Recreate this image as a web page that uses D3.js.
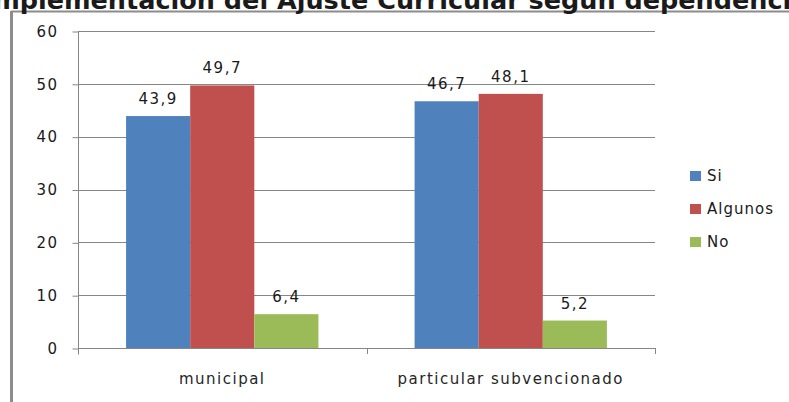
<!DOCTYPE html>
<html>
<head>
<meta charset="utf-8">
<script src="https://cdn.jsdelivr.net/npm/d3@7"></script>
<style>
  body { margin: 0; background: #fff; }
  svg { display: block; }
</style>
</head>
<body>
<div id="chart"></div>
<script>
// Chart data
var categories = ["municipal", "particular subvencionado"];
var seriesNames = ["Si", "Algunos", "No"];
var siValues = [43.9, 46.7];
var algunosValues = [49.7, 48.1];
var noValues = [6.4, 5.2];
var yTicks = [0, 10, 20, 30, 40, 50, 60];
var titleText = "Implementación del Ajuste Curricular según dependencia";

var colors = ["#4F81BD", "#C0504D", "#9BBB59"];

var svgWidth = 789;
var svgHeight = 402;

var plot = { left: 78, right: 655, top: 31, bottom: 348 };

var svg = d3.select("#chart")
  .append("svg")
  .attr("width", svgWidth)
  .attr("height", svgHeight);

// Frame (left and top borders)
svg.append("line")
  .attr("x1", 11).attr("x2", svgWidth)
  .attr("y1", 11.5).attr("y2", 11.5)
  .attr("stroke", "#8c8c8c").attr("stroke-width", 2);
svg.append("line")
  .attr("x1", 11.5).attr("x2", 11.5)
  .attr("y1", 11).attr("y2", svgHeight)
  .attr("stroke", "#8c8c8c").attr("stroke-width", 3);

// Title, mostly cut off at the top edge (as in the original)
var title = svg.append("text")
  .attr("y", 8.5)
  .attr("font-family", "DejaVu Sans")
  .attr("font-weight", "bold")
  .attr("font-size", "25.5px")
  .attr("fill", "#1a1a1a")
  .text(titleText);
var prefixLen = title.node().getSubStringLength(0, titleText.indexOf("Ajuste"));
title.attr("x", 277 - prefixLen);

// Scales
var x0 = d3.scaleBand()
  .domain(categories)
  .range([plot.left, plot.right])
  .padding(0);

var x1 = d3.scaleBand()
  .domain(seriesNames)
  .range([0, x0.bandwidth()])
  .paddingInner(0)
  .paddingOuter(0.75);

var y = d3.scaleLinear()
  .domain([0, 60])
  .range([plot.bottom, plot.top]);

// Gridlines
svg.append("g")
  .selectAll("line")
  .data(yTicks.filter(d => d > 0))
  .enter()
  .append("line")
  .attr("x1", plot.left).attr("x2", plot.right)
  .attr("y1", d => Math.round(y(d)) + 0.5)
  .attr("y2", d => Math.round(y(d)) + 0.5)
  .attr("stroke", "#868686");

// Y axis
var leftAxis = d3.axisLeft(y)
  .tickValues(yTicks)
  .tickSize(6)
  .tickPadding(14)
  .tickFormat(d3.format("d"));

var yAxisG = svg.append("g")
  .attr("transform", `translate(${plot.left + 0.5}, 0.5)`)
  .call(leftAxis);
yAxisG.select(".domain").attr("stroke", "#868686").attr("d", `M0,${plot.top}V${plot.bottom + 6}`);
yAxisG.selectAll(".tick line").attr("stroke", "#868686");
yAxisG.selectAll(".tick text")
  .attr("font-family", "DejaVu Sans")
  .attr("font-size", "15px")
  .attr("letter-spacing", "1.5px")
  .attr("fill", "#1a1a1a");

// Bars
var seriesValues = [siValues, algunosValues, noValues];
var barData = [];
categories.forEach(function(cat, i) {
  seriesNames.forEach(function(s, j) {
    barData.push({ cat: cat, series: s, value: seriesValues[j][i], color: colors[j] });
  });
});

svg.append("g")
  .selectAll("rect")
  .data(barData)
  .enter()
  .append("rect")
  .attr("x", d => x0(d.cat) + x1(d.series))
  .attr("y", d => y(d.value))
  .attr("width", x1.bandwidth())
  .attr("height", d => y(0) - y(d.value))
  .attr("fill", d => d.color);

// X axis
svg.append("line")
  .attr("x1", plot.left).attr("x2", plot.right)
  .attr("y1", plot.bottom + 0.5).attr("y2", plot.bottom + 0.5)
  .attr("stroke", "#868686");

var boundaries = categories.map(c => x0(c)).concat([plot.right]);
svg.append("g")
  .selectAll("line")
  .data(boundaries)
  .enter()
  .append("line")
  .attr("x1", d => Math.round(d) + 0.5).attr("x2", d => Math.round(d) + 0.5)
  .attr("y1", plot.bottom).attr("y2", plot.bottom + 6)
  .attr("stroke", "#868686");

svg.append("g")
  .selectAll("text")
  .data(categories)
  .enter()
  .append("text")
  .attr("x", d => x0(d) + x0.bandwidth() / 2)
  .attr("y", 384)
  .attr("text-anchor", "middle")
  .attr("font-family", "DejaVu Sans")
  .attr("font-size", "15px")
  .attr("letter-spacing", "1.5px")
  .attr("fill", "#262626")
  .text(d => d);

// Data labels
svg.append("g")
  .selectAll("text")
  .data(barData)
  .enter()
  .append("text")
  .attr("x", d => x0(d.cat) + x1(d.series) + x1.bandwidth() / 2)
  .attr("y", d => y(d.value) - 12)
  .attr("text-anchor", "middle")
  .attr("font-family", "DejaVu Sans")
  .attr("font-size", "15px")
  .attr("letter-spacing", "1.5px")
  .attr("fill", "#1a1a1a")
  .text(d => d3.format(".1f")(d.value).replace(".", ","));

// Legend
var legend = svg.append("g")
  .selectAll("g")
  .data(seriesNames)
  .enter()
  .append("g")
  .attr("transform", (d, i) => `translate(690, ${176 + i * 33})`);

legend.append("rect")
  .attr("x", 0).attr("y", -5)
  .attr("width", 11).attr("height", 10)
  .attr("fill", (d, i) => colors[i]);

legend.append("text")
  .attr("x", 17)
  .attr("y", 5)
  .attr("font-family", "DejaVu Sans")
  .attr("font-size", "15px")
  .attr("letter-spacing", "1px")
  .attr("fill", "#1a1a1a")
  .text(d => d);
</script>
</body>
</html>
